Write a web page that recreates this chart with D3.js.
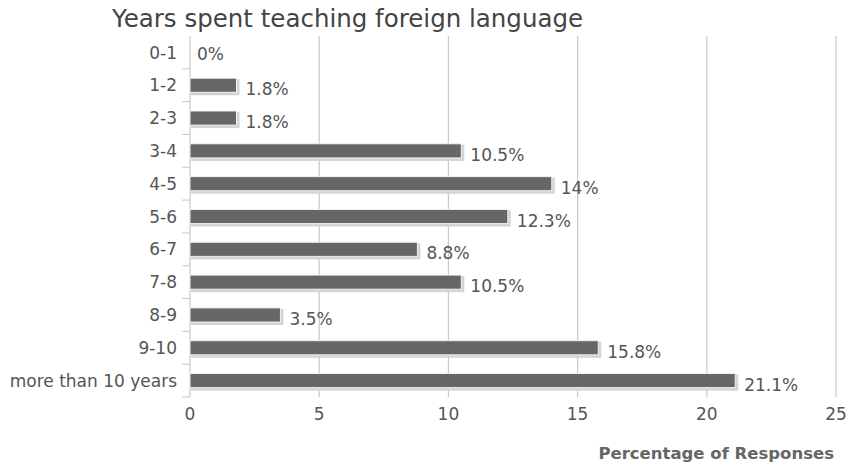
<!DOCTYPE html>
<html>
<head>
<meta charset="utf-8">
<script src="https://cdn.jsdelivr.net/npm/d3@7"></script>
<style>
  html, body { margin: 0; padding: 0; background: #fff; }
  svg { display: block; }
  text { font-family: "DejaVu Sans", "Lucida Grande", sans-serif; }
</style>
</head>
<body>
<svg id="chart" width="855" height="470"></svg>
<script>
// Survey answers: years spent teaching a foreign language
const categories = ["0-1", "1-2", "2-3", "3-4", "4-5", "5-6", "6-7", "7-8", "8-9", "9-10", "more than 10 years"];
const percentages = [0, 1.8, 1.8, 10.5, 14, 12.3, 8.8, 10.5, 3.5, 15.8, 21.1];
const xTicks = [0, 5, 10, 15, 20, 25];
const chartTitle = "Years spent teaching foreign language";
const xAxisTitle = "Percentage of Responses";

const svg = d3.select("#chart");
const margin = { left: 190, right: 19, top: 36, bottom: 73 };
const width = 855, height = 470;

const x = d3.scaleLinear().domain([0, 25]).range([margin.left, width - margin.right]);
const y = d3.scaleBand().domain(categories)
  .range([margin.top, height - margin.bottom])
  .paddingInner(0.57).paddingOuter(0.285);

// vertical grid lines
svg.append("g").selectAll("line")
  .data(xTicks.filter(t => t > 0))
  .join("line")
  .attr("x1", d => x(d)).attr("x2", d => x(d))
  .attr("y1", margin.top).attr("y2", height - margin.bottom)
  .attr("stroke", "#c8c8c8").attr("stroke-width", 1.2);

// y axis line + ticks at band boundaries
const band = y.step();
svg.append("line")
  .attr("x1", x(0)).attr("x2", x(0))
  .attr("y1", margin.top).attr("y2", height - margin.bottom)
  .attr("stroke", "#c8c8c8").attr("stroke-width", 1.2);
svg.append("g").selectAll("line")
  .data(d3.range(1, categories.length + 1))
  .join("line")
  .attr("x1", x(0) - 8).attr("x2", x(0))
  .attr("y1", i => margin.top + i * band).attr("y2", i => margin.top + i * band)
  .attr("stroke", "#c8c8c8").attr("stroke-width", 1);

// bars with soft shadow
const bars = svg.append("g");
const data = categories.map((c, i) => ({ c, v: percentages[i] }));
bars.selectAll("rect.shadow")
  .data(data.filter(d => d.v > 0))
  .join("rect").attr("class", "shadow")
  .attr("x", x(0) + 1).attr("y", d => y(d.c) + 1)
  .attr("width", d => x(d.v) - x(0) + 2).attr("height", y.bandwidth() + 2)
  .attr("fill", "#d4d4d4");
bars.selectAll("rect.bar")
  .data(data.filter(d => d.v > 0))
  .join("rect").attr("class", "bar")
  .attr("x", x(0)).attr("y", d => y(d.c))
  .attr("width", d => x(d.v) - x(0)).attr("height", y.bandwidth())
  .attr("fill", "#666666").attr("stroke", "#f2f2f2").attr("stroke-width", 1);

// value labels
svg.append("g").selectAll("text")
  .data(data)
  .join("text")
  .attr("x", d => x(d.v) + (d.v > 0 ? 9 : 7))
  .attr("y", d => y(d.c) + y.bandwidth() / 2 + (d.v > 0 ? 4 : 1))
  .attr("dy", "0.36em")
  .attr("font-size", 17).attr("fill", "#555")
  .text(d => d.v + "%");

// category labels
svg.append("g").selectAll("text")
  .data(categories)
  .join("text")
  .attr("x", x(0) - 13)
  .attr("y", d => y(d) + y.bandwidth() / 2)
  .attr("dy", "0.36em")
  .attr("text-anchor", "end")
  .attr("font-size", 17).attr("fill", "#555")
  .text(d => d);

// x tick labels
svg.append("g").selectAll("text")
  .data(xTicks)
  .join("text")
  .attr("x", d => x(d)).attr("y", 420)
  .attr("text-anchor", "middle")
  .attr("font-size", 17).attr("fill", "#555")
  .text(d => d);

// axis title
svg.append("text")
  .attr("x", 834).attr("y", 459)
  .attr("text-anchor", "end")
  .attr("font-size", 16.5).attr("font-weight", "bold").attr("fill", "#666")
  .text(xAxisTitle);

// chart title
svg.append("text")
  .attr("x", 112).attr("y", 27)
  .attr("font-size", 24.5).attr("fill", "#444")
  .text(chartTitle);
</script>
</body>
</html>
